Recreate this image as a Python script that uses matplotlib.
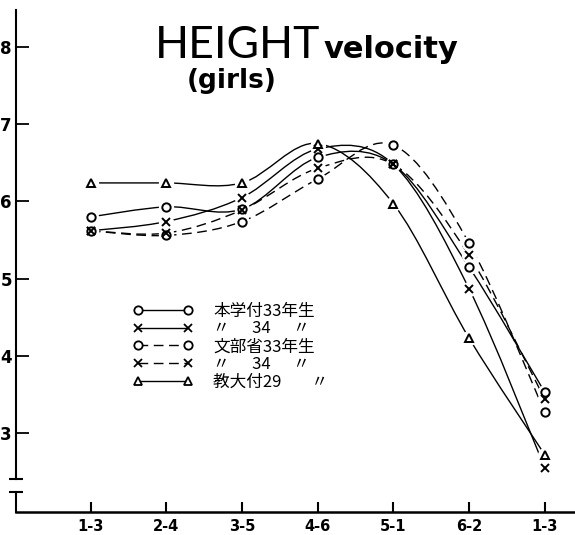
import numpy as np
import matplotlib
matplotlib.use("Agg")
import matplotlib.pyplot as plt
from matplotlib.path import Path
from matplotlib.patches import PathPatch
from matplotlib.lines import Line2D

# age intervals (x axis) and height velocity per group
ages = ["1-3", "2-4", "3-5", "4-6", "5-1", "6-2", "1-3"]
hongaku_33 = [5.80, 5.93, 5.90, 6.57, 6.48, 5.15, 3.53]
hongaku_34 = [5.62, 5.74, 6.05, 6.68, 6.48, 4.87, 2.55]
monbusho_33 = [5.62, 5.56, 5.74, 6.29, 6.73, 5.46, 3.27]
monbusho_34 = [5.62, 5.59, 5.89, 6.43, 6.48, 5.30, 3.44]
kyodai_29 = [6.24, 6.24, 6.24, 6.75, 5.97, 4.23, 2.72]
yticks = [3, 4, 5, 6, 7, 8]

labels = ["本学付33年生", "〃      34      〃", "文部省33年生", "〃      34      〃", "教大付29        〃"]

series = [
    (hongaku_33, "o", "-"),
    (hongaku_34, "x", "-"),
    (monbusho_33, "o", (0, (7, 4))),
    (monbusho_34, "x", (0, (7, 4))),
    (kyodai_29, "^", "-"),
]


def smooth_path(xs, ys):
    # catmull-rom through the points, drawn as matplotlib cubic beziers
    pts = np.column_stack([xs, ys]).astype(float)
    n = len(pts)
    verts = [pts[0]]
    codes = [Path.MOVETO]
    for i in range(n - 1):
        p0 = pts[max(i - 1, 0)]
        p1 = pts[i]
        p2 = pts[i + 1]
        p3 = pts[min(i + 2, n - 1)]
        verts += [p1 + (p2 - p0) / 6, p2 - (p3 - p1) / 6, p2]
        codes += [Path.CURVE4] * 3
    return Path(verts, codes)


fig = plt.figure(figsize=(5.75, 5.35), dpi=100)
ax = fig.add_axes([16 / 575, 23 / 535, 559 / 575, 502 / 535])
ax.set_xlim(-0.986, 6.40)
ax.set_ylim(1.977, 8.48)

x = np.arange(len(ages))
ms = {"o": 6, "x": 5.5, "^": 6}
for vals, mk, ls in series:
    ax.add_patch(PathPatch(smooth_path(x, vals), fill=False, edgecolor="black",
                           lw=1.0, linestyle=ls, zorder=2))
    ax.plot(x, vals, ls="none", marker="o", ms=11, mfc="white", mec="none", zorder=3)
for vals, mk, ls in series:
    ax.plot(x, vals, ls="none", marker=mk, ms=ms[mk], mfc="white", mec="black",
            mew=1.4, zorder=4)

for s in ["top", "right"]:
    ax.spines[s].set_visible(False)
ax.spines["left"].set_bounds(2.40, 8.48)
ax.spines["left"].set_linewidth(1.5)
ax.spines["bottom"].set_linewidth(1.8)
# lower stub of broken y axis with caps
ax.plot([-0.986, -0.986], [2.236, 1.977], color="black", lw=1.5, clip_on=False)
ax.plot([-0.986, -0.986], [2.40, 2.236], ls="none", marker="_", ms=10, mew=1.5,
        color="black", clip_on=False)

ax.set_xticks(x)
ax.set_xticklabels(ages, fontsize=10.5, fontweight="bold")
ax.set_yticks(yticks)
ax.set_yticklabels([str(v) for v in yticks], fontsize=12, fontweight="bold")
ax.tick_params(axis="x", direction="in", length=7, width=1.5, pad=5)
ax.tick_params(axis="y", direction="in", length=9, width=1.3, pad=3)

handles = [Line2D([], [], color="black", lw=1.0, ls=ls, marker=mk, ms=ms[mk],
                  mfc="white", mec="black", mew=1.3) for _, mk, ls in series]
ax.legend(handles, labels, loc="upper left", bbox_to_anchor=(0.183, 0.447),
          frameon=False, numpoints=2, handlelength=3.6, handletextpad=1.2,
          labelspacing=0.05, prop={"family": ["Noto Sans CJK JP", "DejaVu Sans"], "size": 12})

fig.text(155 / 575, 1 - 58 / 535, "HEIGHT", fontsize=32, family="Lato", va="baseline")
fig.text(324 / 575, 1 - 58 / 535, "velocity", fontsize=22, fontweight="bold",
         va="baseline")
fig.text(232 / 575, 1 - 88 / 535, "(girls)", fontsize=19, fontweight="bold",
         va="baseline", ha="center")

fig.savefig("out.png", dpi=100)
